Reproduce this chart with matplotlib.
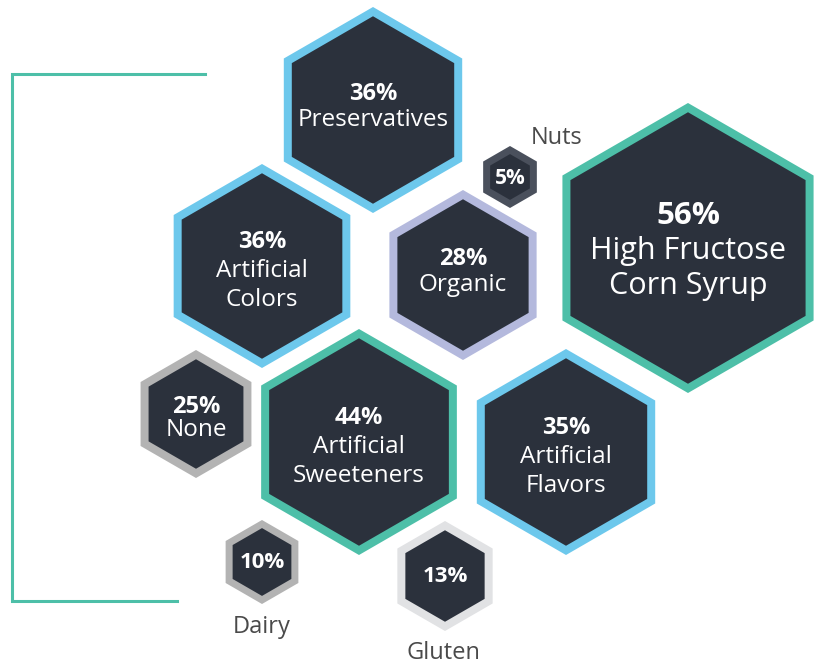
#!/usr/bin/env python3
"""Hexagon chart: ingredients people avoid"""

import numpy as np
import matplotlib
matplotlib.use("Agg")
import matplotlib.pyplot as plt
from matplotlib.patches import Polygon

plt.rcParams["font.family"] = ["Open Sans", "DejaVu Sans"]

# data
labels = ["Preservatives", "Artificial\nColors", "Organic", "Nuts",
          "High Fructose\nCorn Syrup", "None", "Artificial\nSweeteners",
          "Artificial\nFlavors", "Dairy", "Gluten"]
values = [36, 36, 28, 5, 56, 25, 44, 35, 10, 13]

# layout (pixel coords, y down)
centers = [(373, 110), (262, 266), (463, 275), (510, 177), (688, 248),
           (196, 414), (359, 442), (566, 452), (262, 562), (445, 576)]
radii = [103, 102, 85, 31, 145, 64, 113, 103, 42, 55]
borders = ["#6dc8ec", "#6dc8ec", "#b4b9dd", "#4a505c", "#4dbfa8",
           "#b3b3b3", "#4dbfa8", "#6dc8ec", "#b3b3b3", "#e1e2e4"]
outside = [False, False, False, True, False, False, False, False, True, True]
outside_pos = {3: (557, 138), 8: (262, 627), 9: (443, 653)}

FILL = "#2b313c"
W, H = 823, 664


def hexagon(cx, cy, r):
    ang = np.deg2rad(90 + 60 * np.arange(6))
    return np.column_stack([cx + r * np.cos(ang), cy - r * np.sin(ang)])


def main():
    fig = plt.figure(figsize=(W / 100, H / 100), dpi=100)
    ax = fig.add_axes([0, 0, 1, 1])
    ax.set_xlim(0, W)
    ax.set_ylim(H, 0)
    ax.set_aspect("equal")
    ax.axis("off")

    # bracket on the left
    ax.plot([205, 12, 12, 177], [74, 74, 601, 601], color="#4dbfa8", lw=2.2,
            solid_joinstyle="miter")

    for i, (lab, val) in enumerate(zip(labels, values)):
        cx, cy = centers[i]
        r = radii[i]
        bw = 8 if r > 50 else 7
        ax.add_patch(Polygon(hexagon(cx, cy, r), closed=True, fc=borders[i], ec="none"))
        ax.add_patch(Polygon(hexagon(cx, cy, r - bw / np.cos(np.pi / 6)), closed=True,
                             fc=FILL, ec="none"))

        if outside[i]:
            ax.text(cx, cy + 1, f"{val}%", color="white", fontsize=16 if r > 35 else 15,
                    fontweight="bold", ha="center", va="center")
            lx, ly = outside_pos[i]
            ax.text(lx, ly, lab, color="#4a4a4a", fontsize=17, ha="center", va="center")
            continue

        big = r > 130
        fs_pct = 22.5 if big else 17
        fs_lab = 22 if big else 17.5
        step = 35 if big else 28.5
        lines = lab.split("\n")
        n = len(lines)
        ys = cy + (3 if big else 5) + (np.arange(n + 1) - n / 2) * step
        if n == 1:
            ys = [cy - 16 if r > 70 else cy - 7, cy + 10 if r > 70 else cy + 16]
        ax.text(cx, ys[0], f"{val}%", color="white", fontsize=fs_pct,
                fontweight="bold", ha="center", va="center")
        for ln, yy in zip(lines, ys[1:]):
            ax.text(cx, yy, ln, color="white", fontsize=fs_lab, ha="center", va="center")

    fig.savefig("out.png", dpi=100)


if __name__ == "__main__":
    main()
